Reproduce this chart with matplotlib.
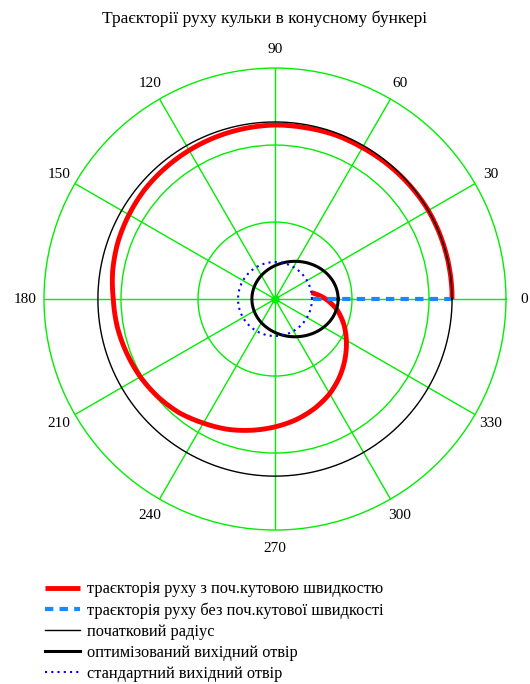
import numpy as np
import matplotlib
matplotlib.use('Agg')
import matplotlib.pyplot as plt

# spiral: angle (deg) -> radius
spiral_deg = [0, 10, 20, 30, 40, 50, 60, 70, 80, 90, 100, 110, 120, 130, 140, 150,
              160, 170, 180, 190, 200, 210, 220, 230, 240, 250, 260, 270, 280, 290,
              300, 310, 320, 330, 340, 350, 360, 365, 370]
spiral_r = [2.30, 2.30, 2.30, 2.30, 2.29, 2.28, 2.27, 2.27, 2.26, 2.26, 2.25, 2.24,
            2.23, 2.22, 2.21, 2.19, 2.17, 2.14, 2.10, 2.08, 2.05, 2.02, 1.98, 1.93,
            1.86, 1.80, 1.73, 1.66, 1.59, 1.51, 1.42, 1.31, 1.19, 1.07, 0.95, 0.82,
            0.66, 0.57, 0.48]

# radial path without initial angular speed
radial_r = [0.50, 2.30]
radial_deg = [0, 0]

r_start = 2.30          # initial radius
r_std = 0.48            # standard outlet
hole_c, hole_a, hole_b = 0.26, 0.56, 0.49   # optimized outlet (ellipse)

labels = ['траєкторія руху з поч.кутовою швидкостю',
          'траєкторія руху без поч.кутової швидкості',
          'початковий радіус',
          'оптимізований вихідний отвір',
          'стандартний вихідний отвір']

plt.rcParams['font.family'] = ['Liberation Serif', 'DejaVu Serif']

fig = plt.figure(figsize=(5.3, 6.84), dpi=100)
ax = fig.add_axes([0.083, 0.2251, 0.8717, 0.6754], projection='polar')

t = np.linspace(0, 2 * np.pi, 361)
ex = hole_c + hole_a * np.cos(t)
ey = hole_b * np.sin(t)

l1, = ax.plot(np.radians(spiral_deg), spiral_r, color='red', lw=3.5, zorder=3,
              solid_capstyle='butt')
# let the polar transform draw the segments as curves
l1.get_path()._interpolation_steps = 20
l2, = ax.plot(np.radians(radial_deg), radial_r, color='#1a86ff', lw=3, zorder=4,
              dashes=(2, 1.5))
l3, = ax.plot(t, np.full_like(t, r_start), color='black', lw=1, zorder=5)
l4, = ax.plot(np.arctan2(ey, ex), np.hypot(ex, ey), color='black', lw=2.2, zorder=6)
l5, = ax.plot(t, np.full_like(t, r_std), color='blue', lw=1.5, zorder=7,
              dashes=(1, 2))
ax.plot([0], [0], 'o', color='#00ee00', ms=5, zorder=2)

ax.set_ylim(0, 3)
ax.set_yticks([1, 2])
ax.set_yticklabels([])
ax.set_xticks(np.radians(np.arange(0, 360, 30)))
ax.set_xticklabels([])
ax.grid(True, color='#00ee00', lw=1, ls='-')
ax.spines['polar'].set_color('#00ee00')
ax.spines['polar'].set_linewidth(1)

for a in range(0, 360, 30):
    ax.text(np.radians(a), 3.24, str(a), ha='center', va='center', fontsize=11,
            clip_on=False)

fig.text(0.5, 0.972, 'Траєкторії руху кульки в конусному бункері', ha='center',
         va='center', fontsize=12.5)

fig.legend([l1, l2, l3, l4, l5], labels, loc='upper left',
           bbox_to_anchor=(0.085, 0.150), frameon=False, fontsize=11.75,
           handlelength=2.15, handletextpad=0.4, labelspacing=0.31,
           borderaxespad=0, borderpad=0)

fig.savefig('out.png', dpi=100)
